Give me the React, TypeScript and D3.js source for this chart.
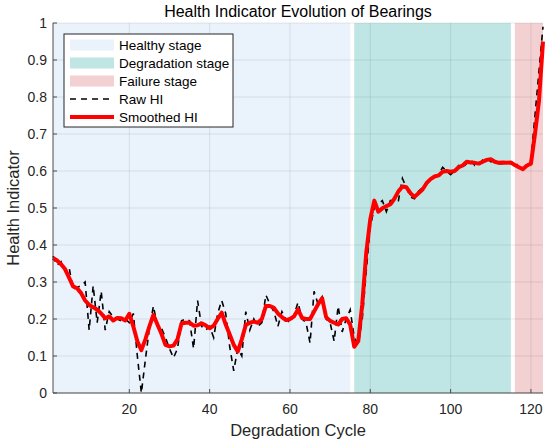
import React from "react";
import * as d3 from "d3";

const cycles: number[] = Array.from({ length: 123 }, (_, i) => i + 1);

const rawHI: number[] = [
  0.37, 0.345, 0.355, 0.33, 0.34, 0.28, 0.285, 0.29, 0.3, 0.17,
  0.29, 0.19, 0.275, 0.17, 0.22, 0.205, 0.2, 0.195, 0.2, 0.19,
  0.215, 0.1, 0.0, 0.09, 0.175, 0.235, 0.18, 0.175, 0.15, 0.12,
  0.095, 0.12, 0.195, 0.2, 0.195, 0.12, 0.25, 0.18, 0.17, 0.18,
  0.15, 0.215, 0.25, 0.215, 0.125, 0.06, 0.12, 0.1, 0.22, 0.17,
  0.2, 0.18, 0.19, 0.265, 0.24, 0.22, 0.18, 0.22, 0.2, 0.19,
  0.21, 0.245, 0.2, 0.19, 0.135, 0.275, 0.24, 0.26, 0.2, 0.19,
  0.14, 0.235, 0.165, 0.2, 0.225, 0.15, 0.13, 0.2, 0.33, 0.45,
  0.5, 0.51, 0.52, 0.49, 0.52, 0.52, 0.52, 0.58, 0.555, 0.53,
  0.525, 0.545, 0.555, 0.57, 0.575, 0.585, 0.59, 0.61, 0.6, 0.59,
  0.6, 0.615, 0.61, 0.62, 0.632, 0.615, 0.615, 0.63, 0.635, 0.625,
  0.625, 0.62, 0.62, 0.625, 0.62, 0.625, 0.61, 0.6, 0.615, 0.63,
  0.75, 0.87, 0.99,
];

const smoothedHI: number[] = [
  0.365, 0.358, 0.348, 0.335, 0.312, 0.288, 0.283, 0.27, 0.25, 0.238,
  0.232, 0.225, 0.215, 0.202, 0.207, 0.196, 0.203, 0.202, 0.196, 0.214,
  0.18, 0.14, 0.116, 0.145, 0.18, 0.211, 0.185, 0.16, 0.13, 0.126,
  0.128, 0.145, 0.188, 0.19, 0.19, 0.182, 0.183, 0.188, 0.183, 0.175,
  0.182, 0.2, 0.217, 0.185, 0.158, 0.13, 0.112, 0.145, 0.184, 0.19,
  0.193, 0.19, 0.2, 0.235, 0.235, 0.23, 0.215, 0.205, 0.197, 0.2,
  0.207, 0.226, 0.203, 0.2, 0.2, 0.22, 0.24, 0.256, 0.205, 0.195,
  0.19, 0.185, 0.2, 0.202, 0.185, 0.125, 0.14, 0.24, 0.38, 0.47,
  0.52, 0.49, 0.499, 0.505, 0.51, 0.525, 0.545, 0.558, 0.556, 0.54,
  0.53, 0.54, 0.55, 0.567, 0.578, 0.585, 0.588, 0.598, 0.6, 0.598,
  0.6, 0.61, 0.615, 0.625, 0.623, 0.622, 0.62, 0.625, 0.63, 0.632,
  0.625, 0.622, 0.623, 0.622, 0.623, 0.616, 0.61, 0.605, 0.615, 0.62,
  0.7, 0.79, 0.95,
];

const stageNames: string[] = ["Healthy stage", "Degradation stage", "Failure stage"];
const stageStart: number[] = [1, 76, 116];
const stageEnd: number[] = [75, 115, 123];
const stageColors: string[] = ["#eaf2fc", "#bfe6e4", "#f3d0d1"];

const xTicks: number[] = [20, 40, 60, 80, 100, 120];
const yTicks: number[] = [0, 0.1, 0.2, 0.3, 0.4, 0.5, 0.6, 0.7, 0.8, 0.9, 1];

const W = 550;
const H = 444;
const M = { left: 53, right: 7, top: 23, bottom: 51 };
const FONT = "'Liberation Sans', Arial, Helvetica, sans-serif";

export default function App() {
  const x = d3.scaleLinear().domain([1, 123]).range([M.left, W - M.right]);
  const y = d3.scaleLinear().domain([0, 1]).range([H - M.bottom, M.top]);

  const line = d3
    .line<number>()
    .x((_, i) => x(cycles[i]))
    .y((d) => y(d));

  const axisColor = "#4d4d4d";
  const textColor = "#262626";
  const x0 = M.left;
  const x1 = W - M.right;
  const y0 = H - M.bottom;
  const y1 = M.top;

  const legendX = 64;
  const legendY = 34;
  const legendRows = [45, 63, 81, 99, 117];

  return (
    <div style={{ position: "absolute", left: 0, top: 0 }}>
      <svg width={W} height={H} style={{ display: "block", background: "#fff" }}>
        {stageNames.map((s, i) => (
          <rect
            key={s}
            x={x(stageStart[i])}
            y={y1}
            width={x(stageEnd[i]) - x(stageStart[i])}
            height={y0 - y1}
            fill={stageColors[i]}
          />
        ))}
        {/* grid */}
        {xTicks.map((t) => (
          <line key={"gx" + t} x1={x(t)} x2={x(t)} y1={y0} y2={y1} stroke="#262626" strokeOpacity={0.1} />
        ))}
        {yTicks.map((t) => (
          <line key={"gy" + t} x1={x0} x2={x1} y1={y(t)} y2={y(t)} stroke="#262626" strokeOpacity={0.1} />
        ))}
        {/* lines */}
        <path d={line(rawHI) || ""} fill="none" stroke="#000" strokeWidth={1.6} strokeDasharray="6,5" />
        <path d={line(smoothedHI) || ""} fill="none" stroke="#ff0000" strokeWidth={4} strokeLinejoin="round" />
        {/* axes */}
        <line x1={x0} x2={x1} y1={y0} y2={y0} stroke={axisColor} />
        <line x1={x0} x2={x0} y1={y0} y2={y1} stroke={axisColor} />
        {xTicks.map((t) => (
          <g key={"tx" + t}>
            <line x1={x(t)} x2={x(t)} y1={y0} y2={y0 - 4} stroke={axisColor} />
            <text x={x(t)} y={414} textAnchor="middle" fontSize={14} fill={textColor} fontFamily={FONT}>
              {t}
            </text>
          </g>
        ))}
        {yTicks.map((t) => (
          <g key={"ty" + t}>
            <line x1={x0} x2={x0 + 4} y1={y(t)} y2={y(t)} stroke={axisColor} />
            <text x={47} y={y(t) + 5} textAnchor="end" fontSize={14} fill={textColor} fontFamily={FONT}>
              {t}
            </text>
          </g>
        ))}
        {/* labels */}
        <text x={(x0 + x1) / 2} y={17} textAnchor="middle" fontSize={16} fill="#000" fontFamily={FONT}>
          Health Indicator Evolution of Bearings
        </text>
        <text x={(x0 + x1) / 2} y={436} textAnchor="middle" fontSize={16.5} fill={textColor} fontFamily={FONT}>
          Degradation Cycle
        </text>
        <text
          transform={`translate(19, ${(y0 + y1) / 2}) rotate(-90)`}
          textAnchor="middle"
          fontSize={16.5}
          fill={textColor}
          fontFamily={FONT}
        >
          Health Indicator
        </text>
        {/* legend */}
        <rect x={legendX} y={legendY} width={169} height={93} fill="#ffffff" stroke="#262626" strokeWidth={1} />
        {stageNames.map((s, i) => (
          <rect key={"ls" + s} x={70} y={legendRows[i] - 5.5} width={44} height={11} fill={stageColors[i]} />
        ))}
        <line x1={70} x2={111} y1={legendRows[3]} y2={legendRows[3]} stroke="#000" strokeWidth={1.6} strokeDasharray="6,5" />
        <line x1={70} x2={114} y1={legendRows[4]} y2={legendRows[4]} stroke="#ff0000" strokeWidth={4} />
        {[...stageNames, "Raw HI", "Smoothed HI"].map((s, i) => (
          <text key={"lt" + s} x={119} y={legendRows[i] + 4.5} fontSize={13.5} fill="#000" fontFamily={FONT}>
            {s}
          </text>
        ))}
      </svg>
    </div>
  );
}
